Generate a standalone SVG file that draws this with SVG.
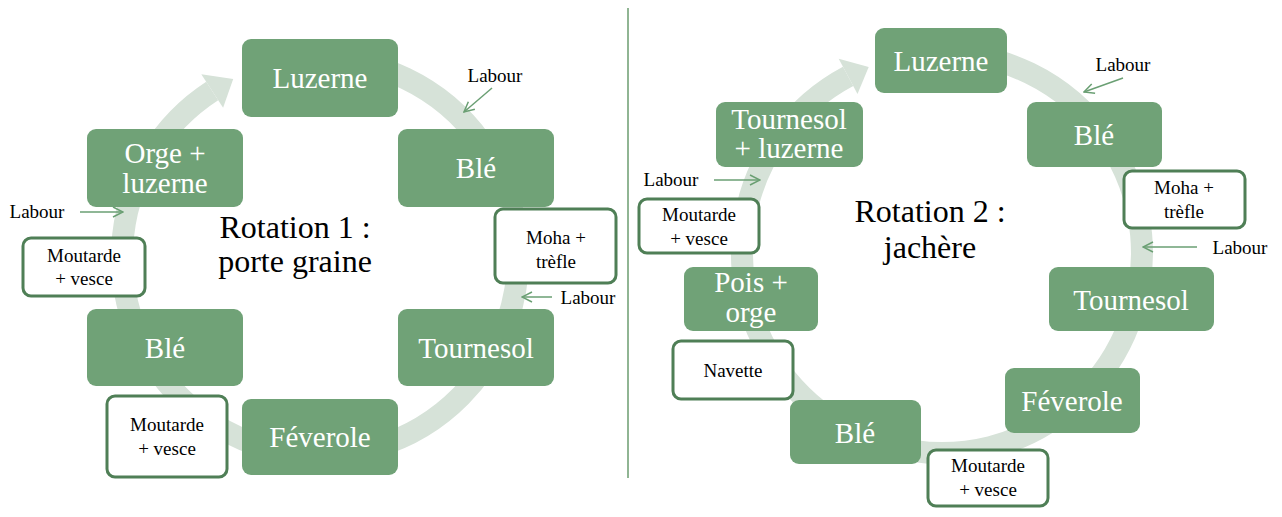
<svg xmlns="http://www.w3.org/2000/svg" width="1282" height="517" viewBox="0 0 1282 517">
<defs>
<style>
.node{fill:#70a277;}
.nt{font-family:"Liberation Serif","Times New Roman",serif;font-size:29px;fill:#ffffff;text-anchor:middle;}
.box{fill:#ffffff;stroke:#4f7f56;stroke-width:3;}
.st{font-family:"Liberation Serif","Times New Roman",serif;font-size:19px;fill:#000000;text-anchor:middle;}
.lab{font-family:"Liberation Serif","Times New Roman",serif;font-size:19px;fill:#000000;text-anchor:middle;}
.title{font-family:"Liberation Serif","Times New Roman",serif;font-size:32px;fill:#000000;text-anchor:middle;}
.ring{fill:none;stroke:#d6e2d8;stroke-width:22;}
.head{fill:#d6e2d8;}
.la{fill:none;stroke:#6a9f73;stroke-width:1.5;marker-end:url(#v);}
</style>
<marker id="v" viewBox="0 0 12 12" refX="11" refY="6" markerWidth="12" markerHeight="12" markerUnits="userSpaceOnUse" orient="auto">
<path d="M1,1 L11,6 L1,11" fill="none" stroke="#6a9f73" stroke-width="1.5"/>
</marker>
</defs>
<rect width="1282" height="517" fill="#ffffff"/>
<line x1="628" y1="8" x2="628" y2="478" stroke="#6b9c6f" stroke-width="1.5"/>
<g id="connectors">
<path class="ring" d="M320,59 A198,198 0 1 1 212.2,90.9"/>
<polygon class="head" points="201.3,74.2 233.2,79.0 223.1,107.7"/>
<path class="ring" d="M942,53 A200,200 0 1 1 848.1,76.4"/>
<polygon class="head" points="838.7,58.8 868.7,66.9 857.5,94.1"/>
<path class="la" d="M492,88 L464,112"/>
<path class="la" d="M80,212 L123,212"/>
<path class="la" d="M552,297 L522,297"/>
<path class="la" d="M1123,78 L1084,92"/>
<path class="la" d="M714,180 L760,180"/>
<path class="la" d="M1197,247 L1143,247"/>
</g>
<g id="L-luzerne"><rect class="node" x="242" y="39" width="156" height="78" rx="9"/><text class="nt" x="320" y="88">Luzerne</text></g>
<g id="L-ble1"><rect class="node" x="398" y="129" width="156" height="78" rx="9"/><text class="nt" x="476" y="178">Blé</text></g>
<g id="L-tournesol"><rect class="node" x="398" y="309" width="156" height="77" rx="9"/><text class="nt" x="476" y="358">Tournesol</text></g>
<g id="L-feverole"><rect class="node" x="242" y="399" width="156" height="76" rx="9"/><text class="nt" x="320" y="447">Féverole</text></g>
<g id="L-ble2"><rect class="node" x="87" y="309" width="156" height="77" rx="9"/><text class="nt" x="165" y="358">Blé</text></g>
<g id="L-orge"><rect class="node" x="87" y="129" width="156" height="78" rx="9"/><text class="nt" x="165" y="163">Orge +</text><text class="nt" x="165" y="193">luzerne</text></g>
<g id="L-moutarde1"><rect class="box" x="23" y="238" width="122" height="58" rx="8"/><text class="st" x="84" y="262">Moutarde</text><text class="st" x="84" y="285">+ vesce</text></g>
<g id="L-moha"><rect class="box" x="495" y="209" width="121" height="74" rx="8"/><text class="st" x="556" y="244">Moha +</text><text class="st" x="556" y="268">trèfle</text></g>
<g id="L-moutarde2"><rect class="box" x="107" y="396" width="120" height="81" rx="8"/><text class="st" x="167" y="431">Moutarde</text><text class="st" x="167" y="455">+ vesce</text></g>
<g id="L-labels"><text class="lab" x="495" y="82">Labour</text><text class="lab" x="37" y="218">Labour</text><text class="lab" x="588" y="304">Labour</text></g>
<g id="L-title"><text class="title" x="295" y="238">Rotation 1 :</text><text class="title" x="295" y="272">porte graine</text></g>
<g id="R-luzerne"><rect class="node" x="875" y="28" width="132" height="65" rx="9"/><text class="nt" x="941" y="71">Luzerne</text></g>
<g id="R-ble1"><rect class="node" x="1027" y="102" width="135" height="65" rx="9"/><text class="nt" x="1094" y="145">Blé</text></g>
<g id="R-tournesol"><rect class="node" x="1049" y="267" width="165" height="64" rx="9"/><text class="nt" x="1131" y="310">Tournesol</text></g>
<g id="R-feverole"><rect class="node" x="1005" y="368" width="135" height="65" rx="9"/><text class="nt" x="1072" y="411">Féverole</text></g>
<g id="R-ble2"><rect class="node" x="790" y="400" width="131" height="64" rx="9"/><text class="nt" x="855" y="443">Blé</text></g>
<g id="R-pois"><rect class="node" x="684" y="267" width="134" height="64" rx="9"/><text class="nt" x="751" y="292">Pois +</text><text class="nt" x="751" y="322">orge</text></g>
<g id="R-tournesol-luzerne"><rect class="node" x="716" y="102" width="147" height="65" rx="9"/><text class="nt" x="789" y="129">Tournesol</text><text class="nt" x="789" y="158">+ luzerne</text></g>
<g id="R-moha"><rect class="box" x="1124" y="171" width="121" height="57" rx="8"/><text class="st" x="1184" y="194">Moha +</text><text class="st" x="1184" y="218">trèfle</text></g>
<g id="R-moutarde1"><rect class="box" x="639" y="199" width="120" height="54" rx="8"/><text class="st" x="699" y="221">Moutarde</text><text class="st" x="699" y="245">+ vesce</text></g>
<g id="R-navette"><rect class="box" x="673" y="341" width="120" height="58" rx="8"/><text class="st" x="733" y="377">Navette</text></g>
<g id="R-moutarde2"><rect class="box" x="928" y="450" width="120" height="56" rx="8"/><text class="st" x="988" y="472">Moutarde</text><text class="st" x="988" y="496">+ vesce</text></g>
<g id="R-labels"><text class="lab" x="1123" y="71">Labour</text><text class="lab" x="671" y="186">Labour</text><text class="lab" x="1240" y="254">Labour</text></g>
<g id="R-title"><text class="title" x="930" y="222">Rotation 2 :</text><text class="title" x="930" y="258">jachère</text></g>
</svg>
